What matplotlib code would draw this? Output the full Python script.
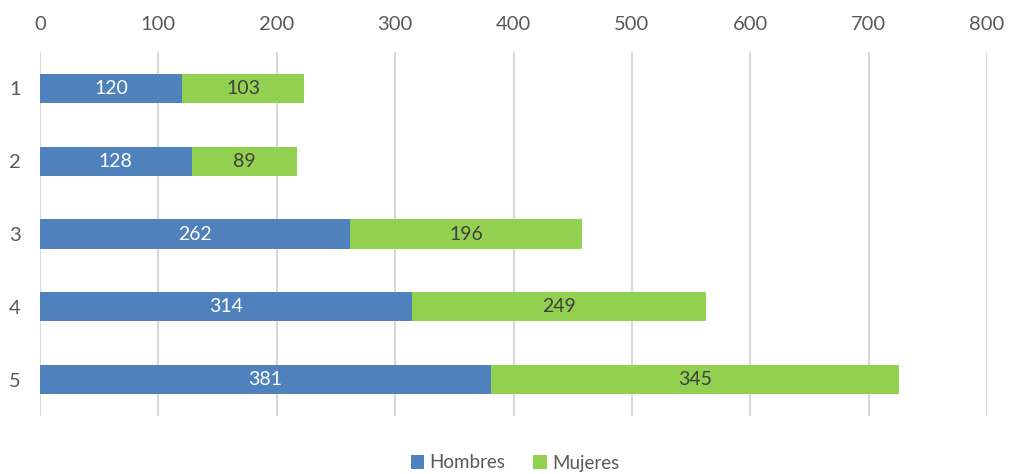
import numpy as np
import matplotlib
matplotlib.use("Agg")
import matplotlib.pyplot as plt

plt.rcParams['font.family'] = ['Lato', 'DejaVu Sans']

categorias = ["1", "2", "3", "4", "5"]
hombres = [120, 128, 262, 314, 381]
mujeres = [103, 89, 196, 249, 345]

azul = "#4F81BD"
verde = "#92D050"
gris = "#595959"

fig = plt.figure(figsize=(10.11, 4.74), dpi=100)
ax = fig.add_axes([40 / 1011, 1 - 416 / 474, 947 / 1011, 364 / 474])

y = np.arange(1, len(categorias) + 1)
b1 = ax.barh(y, hombres, height=0.4, color=azul, label="Hombres")
b2 = ax.barh(y, mujeres, left=hombres, height=0.4, color=verde, label="Mujeres")

for rect, v in zip(b1, hombres):
    ax.text(rect.get_x() + rect.get_width() / 2, rect.get_y() + rect.get_height() / 2,
            str(v), ha="center", va="center", color="white", fontsize=14)
for rect, v in zip(b2, mujeres):
    ax.text(rect.get_x() + rect.get_width() / 2, rect.get_y() + rect.get_height() / 2,
            str(v), ha="center", va="center", color="#404040", fontsize=14)

ax.set_xlim(0, 800)
ax.set_ylim(5.5, 0.5)
ax.set_xticks(range(0, 801, 100))
ax.set_yticks(y)
ax.set_yticklabels(categorias)
ax.xaxis.tick_top()
ax.tick_params(axis="x", length=0, pad=14, labelsize=14.5, labelcolor=gris)
ax.tick_params(axis="y", length=0, pad=14, labelsize=14.5, labelcolor=gris)
ax.grid(axis="x", color="#D9D9D9", linewidth=1.5)
ax.set_axisbelow(True)
for s in ax.spines.values():
    s.set_visible(False)

fig.legend(handles=[b1, b2], loc="center", bbox_to_anchor=(515 / 1011, 1 - 463 / 474),
           ncol=2, frameon=False, fontsize=13.5, labelcolor=gris,
           handlelength=0.7, handleheight=0.7, handletextpad=0.3, columnspacing=1.5)

fig.savefig("out.png", dpi=100)
